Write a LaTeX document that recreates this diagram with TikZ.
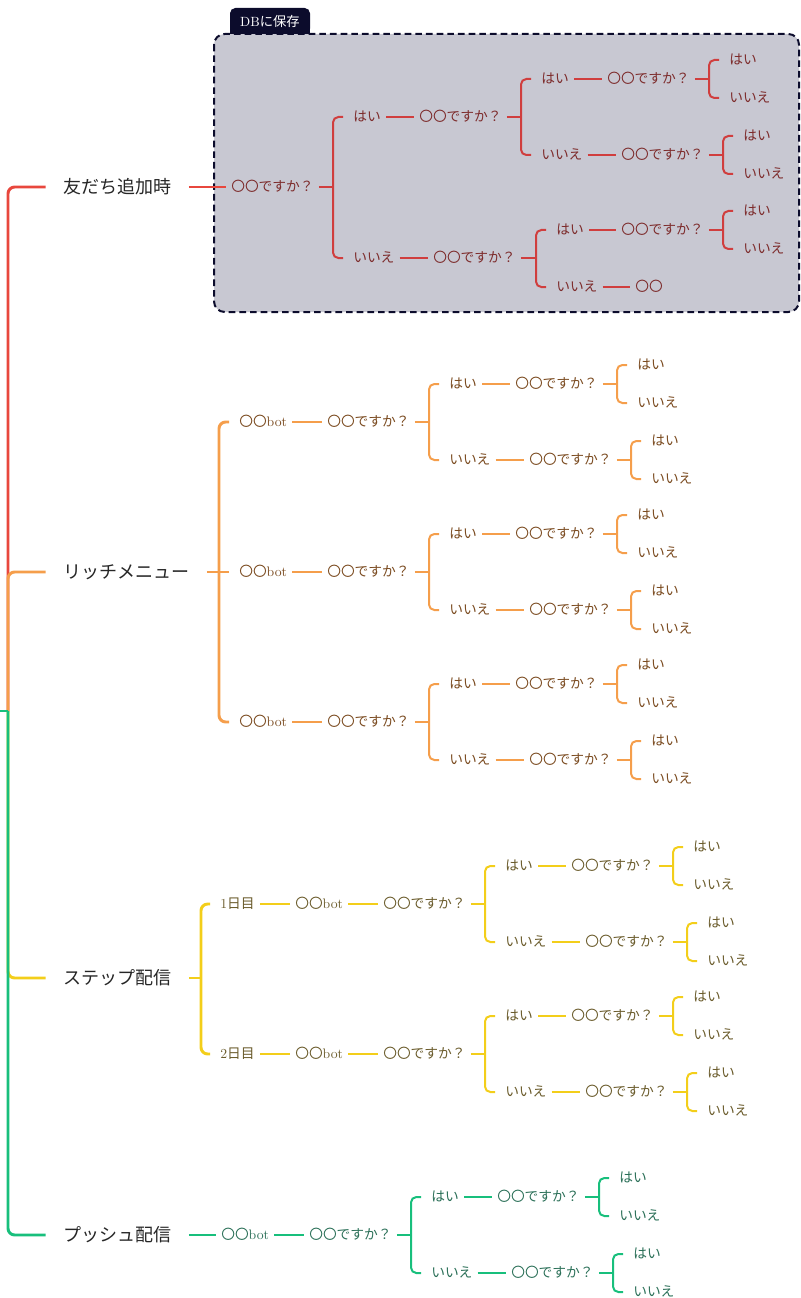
\documentclass[tikz,border=0pt]{standalone}
\usepackage{fontspec}
\usepackage{tikz}
\newfontfamily\jp{Noto Sans CJK JP}

\definecolor{redline}{HTML}{E8473D}
\definecolor{redsub}{HTML}{D03E3E}
\definecolor{redtext}{HTML}{7D2B2B}
\definecolor{orline}{HTML}{F59E4B}
\definecolor{ortext}{HTML}{7A4A1F}
\definecolor{yeline}{HTML}{F3CE1A}
\definecolor{yetext}{HTML}{6A5B2B}
\definecolor{grline}{HTML}{18BF7C}
\definecolor{grtext}{HTML}{2A6F57}
\definecolor{boxfill}{HTML}{C8C8D2}
\definecolor{navy}{HTML}{0C0C2C}
\colorlet{ln}{black}
\colorlet{tx}{black}

\tikzset{
    topic/.style={anchor=west, xshift=-13pt, inner xsep=13pt, text=black!85,
        font=\jp\fontsize{13.5}{16}\selectfont},
    sub/.style={anchor=west, xshift=-3.75pt, inner xsep=3.75pt, inner ysep=2pt,
        text=tx, text height=.85em, text depth=.15em, font=\fontsize{10.3}{12}\selectfont},
    tab/.style={fill=navy, text=white, rounded corners=4pt, inner sep=0pt,
        minimum width=60pt, minimum height=19.5pt, font=\fontsize{10}{12}\selectfont},
    dbbox/.style={draw=navy, fill=boxfill, line width=1.5pt,
        dash pattern=on 5pt off 3pt, rounded corners=8pt},
    trunk/.style={line width=2.2pt, rounded corners=5pt},
    link/.style={line width=1.5pt, draw=ln},
    arm/.style={link, rounded corners=4pt, shorten <=3.75pt, shorten >=3.75pt},
}

% question with a yes/no pair
\newcommand{\askpair}[3]{%
    \node[sub] (#1) at (#2,#3) {\jp 〇〇ですか？};
    \node[sub] (#1y) at (#2+122,#3-19) {\jp はい};
    \node[sub] (#1n) at (#2+122,#3+19) {\jp いいえ};
    \coordinate (#1j) at (#2+102,#3);
    \draw[link] (#1) -- (#1j);
    \draw[arm] (#1y) -| (#1j) |- (#1n);
}

% question, yes/no, and a question after each
\newcommand{\asktree}[3]{%
    \node[sub] (#1) at (#2,#3) {\jp 〇〇ですか？};
    \node[sub] (#1y) at (#2+122,#3-38) {\jp はい};
    \node[sub] (#1n) at (#2+122,#3+38) {\jp いいえ};
    \coordinate (#1j) at (#2+102,#3);
    \draw[link] (#1) -- (#1j);
    \draw[arm] (#1y) -| (#1j) |- (#1n);
    \askpair{#1a}{#2+188}{#3-38}
    \draw[link] (#1y) -- (#1a);
    \askpair{#1b}{#2+202}{#3+38}
    \draw[link] (#1n) -- (#1b);
}

\begin{document}
\begin{tikzpicture}[x=0.75pt, y=-0.75pt]
    \useasboundingbox (0,0) rectangle (800,1298);

    % saved to DB
    \draw[dbbox] (214,34) rectangle (799,312);
    \fill[navy] (230,21) rectangle (310,34);
    \node[tab] (dbtab) at (270,21) {DB{\jp に保存}};

    \coordinate (root) at (0,711);
    \coordinate (spine) at (8,711);
    \node[topic] (friend) at (63,187) {友だち追加時};
    \node[topic] (rich) at (63,572) {リッチメニュー};
    \node[topic] (step) at (63,978) {ステップ配信};
    \node[topic] (push) at (63,1235) {プッシュ配信};

    \draw[trunk, redline] (friend) -| (spine);
    \draw[trunk, orline] (rich) -| (spine);
    \draw[trunk, yeline] (step) -| (spine);
    \draw[trunk, grline] (push) -| (spine);
    \draw[trunk, grline] (root) -- (spine);

    % friend added
    \begin{scope}
    \colorlet{ln}{redsub}\colorlet{tx}{redtext}
    \node[sub] (r0) at (231,187) {\jp 〇〇ですか？};
    \draw[trunk, redline] (friend) -- (r0);
    \node[sub] (r0y) at (353,117) {\jp はい};
    \node[sub] (r0n) at (353,258) {\jp いいえ};
    \coordinate (r0j) at (333,187);
    \draw[link] (r0) -- (r0j);
    \draw[arm] (r0y) -| (r0j) |- (r0n);
    \asktree{r1}{419}{117}
    \draw[link] (r0y) -- (r1);
    \node[sub] (r2) at (433,258) {\jp 〇〇ですか？};
    \draw[link] (r0n) -- (r2);
    \node[sub] (r2y) at (556,230) {\jp はい};
    \node[sub] (r2n) at (556,287) {\jp いいえ};
    \coordinate (r2j) at (536,258);
    \draw[link] (r2) -- (r2j);
    \draw[arm] (r2y) -| (r2j) |- (r2n);
    \askpair{r3}{621}{230}
    \draw[link] (r2y) -- (r3);
    \node[sub] (r4) at (635,287) {\jp 〇〇};
    \draw[link] (r2n) -- (r4);
    \end{scope}

    % rich menu
    \begin{scope}
    \colorlet{ln}{orline}\colorlet{tx}{ortext}
    \coordinate (oj) at (219,572);
    \draw[trunk, orline] (rich) -- (oj);
    \foreach \y [count=\i] in {422,572,722}{
        \node[sub] (ob\i) at (239,\y) {{\jp 〇〇}bot};
        \asktree{oq\i}{327}{\y}
        \draw[link] (ob\i) -- (oq\i);
    }
    \draw[trunk, orline, shorten <=3.75pt, shorten >=3.75pt] (ob1) -| (oj) |- (ob3);
    \draw[trunk, orline, shorten <=3.75pt] (ob2) -- (oj);
    \end{scope}

    % step mails
    \begin{scope}
    \colorlet{ln}{yeline}\colorlet{tx}{yetext}
    \coordinate (yj) at (201,978);
    \draw[trunk, yeline] (step) -- (yj);
    \foreach \d/\y in {1/904,2/1054}{
        \node[sub] (yd\d) at (220,\y) {\d{\jp 日目}};
        \node[sub] (yb\d) at (295,\y) {{\jp 〇〇}bot};
        \asktree{yq\d}{383}{\y}
        \draw[link] (yd\d) -- (yb\d);
        \draw[link] (yb\d) -- (yq\d);
    }
    \draw[trunk, yeline, shorten <=3.75pt, shorten >=3.75pt] (yd1) -| (yj) |- (yd2);
    \end{scope}

    % push
    \begin{scope}
    \colorlet{ln}{grline}\colorlet{tx}{grtext}
    \node[sub] (gb) at (221,1235) {{\jp 〇〇}bot};
    \draw[trunk, grline] (push) -- (gb);
    \asktree{gq}{309}{1235}
    \draw[link] (gb) -- (gq);
    \end{scope}
\end{tikzpicture}
\end{document}
